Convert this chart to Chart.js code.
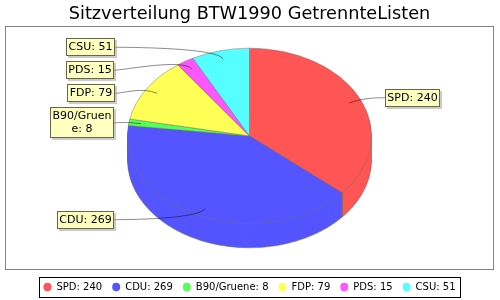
<!DOCTYPE html>
<html>
<head>
<meta charset="utf-8">
<script src="https://cdn.jsdelivr.net/npm/chart.js@4/dist/chart.umd.min.js"></script>
<style>
html,body{margin:0;padding:0;background:#ffffff;}
#wrap{width:500px;height:300px;}
</style>
</head>
<body>
<div id="wrap"><canvas id="c" width="500" height="300"></canvas></div>
<script>
// ---- data ----
const chartTitle = 'Sitzverteilung BTW1990 GetrennteListen';
const parties = ['SPD', 'CDU', 'B90/Gruene', 'FDP', 'PDS', 'CSU'];
const seats = [240, 269, 8, 79, 15, 51];
const colors = ['#FF5555', '#5555FF', '#55FF55', '#FFFF55', '#FF55FF', '#55FFFF'];

// ---- style ----
const FONT = '"DejaVu Sans", Verdana, sans-serif';
const LABEL_SIZE = 11;
const DEPTH = 24;          // pie thickness (px)
const TILT = 0.72;         // vertical squash of the pie
const RADIUS = 122;
const OUTLINE = 'rgba(110,110,110,0.9)';
const LINK_IN = 0.9;       // where leader lines touch the slice
const LINK_OUT = 1.04;     // link ellipse
const LABEL_GAP = 13;
const PAD_H = 2.5, PAD_V = 2.5, LINE_H = 13, STACK_GAP = 5;
const MAX_LABEL_W = 5.6 * LABEL_SIZE;
const LEGEND_SHIFT = 2;

function labelText(i) { return parties[i] + ': ' + seats[i]; }

function wrapText(ctx, text, maxW) {
  const words = text.split(' ');
  const lines = [];
  let cur = '';
  words.forEach(w => {
    const test = cur ? cur + ' ' + w : w;
    if (ctx.measureText(test).width <= maxW) { cur = test; return; }
    if (cur) { lines.push(cur); cur = ''; }
    let piece = '';
    for (const ch of w) {
      if (piece && ctx.measureText(piece + ch).width > maxW) { lines.push(piece); piece = ch; }
      else piece += ch;
    }
    cur = piece;
  });
  if (cur) lines.push(cur);
  return lines;
}

const pie3d = {
  id: 'pie3d',
  afterLayout(chart) {
    const lg = chart.legend;
    if (lg) { lg.top += LEGEND_SHIFT; lg.bottom += LEGEND_SHIFT; }
  },
  beforeDraw(chart) {
    const {ctx, chartArea: a} = chart;
    ctx.save();
    ctx.fillStyle = '#ffffff';
    ctx.fillRect(0, 0, chart.width, chart.height);
    ctx.strokeStyle = '#808080';
    ctx.lineWidth = 1;
    ctx.strokeRect(Math.round(a.left) + 0.5, Math.round(a.top) + 0.5,
                   Math.round(a.right - a.left) - 1, Math.round(a.bottom - a.top) - 1);
    ctx.restore();
  },
  beforeDatasetsDraw(chart) {
    const arcs = chart.getDatasetMeta(0).data;
    if (!arcs.length) return;
    const ctx = chart.ctx;
    const cx = arcs[0].x, cy = arcs[0].y;
    // extruded sides: stack of squashed pies, bottom to top
    for (let d = DEPTH; d >= 1; d--) {
      ctx.save();
      ctx.translate(cx, cy - DEPTH / 2 + d);
      ctx.scale(1, TILT);
      ctx.translate(-cx, -cy);
      arcs.forEach(arc => {
        const o = arc.options;
        arc.options = Object.assign({}, o, {borderWidth: 0});
        arc.draw(ctx);
        arc.options = o;
      });
      ctx.restore();
    }
    // top face: let Chart.js draw it under the same squash
    ctx.save();
    ctx.translate(cx, cy - DEPTH / 2);
    ctx.scale(1, TILT);
    ctx.translate(-cx, -cy);
  },
  afterDatasetsDraw(chart) {
    const arcs = chart.getDatasetMeta(0).data;
    if (!arcs.length) return;
    const ctx = chart.ctx;
    ctx.restore();
    const cx = arcs[0].x, cy = arcs[0].y, R = arcs[0].outerRadius;
    const topCy = cy - DEPTH / 2;
    const ry = R * TILT;

    // side outlines
    ctx.save();
    ctx.strokeStyle = OUTLINE;
    ctx.lineWidth = 0.6;
    ctx.beginPath();
    ctx.ellipse(cx, topCy + DEPTH, R, ry, 0, 0, Math.PI);
    ctx.stroke();
    ctx.beginPath();
    arcs.forEach(arc => {
      [arc.startAngle, arc.endAngle].forEach(ang => {
        if (Math.sin(ang) > 0.02) {
          const x = cx + R * Math.cos(ang), y = topCy + ry * Math.sin(ang);
          ctx.moveTo(x, y);
          ctx.lineTo(x, y + DEPTH);
        }
      });
    });
    ctx.stroke();
    ctx.restore();

    // labels
    ctx.save();
    ctx.font = LABEL_SIZE + 'px ' + FONT;
    const items = arcs.map((arc, i) => {
      const mid = (arc.startAngle + arc.endAngle) / 2;
      const c = Math.cos(mid), s = Math.sin(mid);
      const lines = wrapText(ctx, labelText(i), MAX_LABEL_W);
      const tw = Math.max(...lines.map(l => ctx.measureText(l).width));
      return {i, c, s, lines, w: tw + 2 * PAD_H, h: lines.length * LINE_H + 2 * PAD_V,
              y: topCy + s * ry * LINK_OUT, right: c >= 0};
    });
    [true, false].forEach(side => {
      const list = items.filter(it => it.right === side).sort((a, b) => a.y - b.y);
      let prevBottom = -Infinity;
      list.forEach(it => {
        let top = it.y - it.h / 2;
        if (top < prevBottom + STACK_GAP) top = prevBottom + STACK_GAP;
        it.y = top + it.h / 2;
        prevBottom = top + it.h;
      });
    });
    items.forEach(it => {
      const bx = Math.round(it.right ? cx + R + LABEL_GAP : cx - R - LABEL_GAP - it.w);
      const by = Math.round(it.y - it.h / 2);
      const bw = Math.round(it.w), bh = Math.round(it.h);
      const targetX = it.right ? bx : bx + bw;
      const targetY = it.y;
      const linkX = cx + it.c * R * LINK_IN, linkY = topCy + it.s * ry * LINK_IN;
      const elbowX = cx + it.c * R * LINK_OUT, elbowY = topCy + it.s * ry * LINK_OUT;
      const anchorX = cx + (it.right ? 1 : -1) * R * LINK_OUT;
      // leader
      ctx.strokeStyle = 'rgba(0,0,0,0.75)';
      ctx.lineWidth = 0.6;
      ctx.beginPath();
      ctx.moveTo(linkX, linkY);
      ctx.bezierCurveTo(elbowX, elbowY, anchorX, targetY, targetX, targetY);
      ctx.stroke();
      // shadow
      ctx.fillStyle = 'rgba(151,151,151,0.5)';
      ctx.fillRect(bx + 2, by + 2, bw, bh);
      // box
      ctx.fillStyle = '#FFFFC0';
      ctx.fillRect(bx, by, bw, bh);
      ctx.strokeStyle = 'rgba(0,0,0,0.6)';
      ctx.lineWidth = 1;
      ctx.strokeRect(bx + 0.5, by + 0.5, bw - 1, bh - 1);
      // text
      ctx.fillStyle = '#000000';
      ctx.textAlign = 'center';
      ctx.textBaseline = 'middle';
      it.lines.forEach((ln, k) => {
        ctx.fillText(ln, bx + bw / 2, by + PAD_V + LINE_H * (k + 0.5) + 0.5);
      });
    });
    ctx.restore();
  },
  afterDraw(chart) {
    const lg = chart.legend;
    if (!lg || !lg.lineWidths) return;
    const ctx = chart.ctx;
    const pad = lg.options.labels.padding;
    const fs = lg.options.labels.font.size;
    const x0 = (lg.left + pad + lg.right - lg.lineWidths[0]) / 2;
    const x1 = x0 + lg.lineWidths[0] - pad;
    const yc = lg.top + pad + fs / 2;
    ctx.save();
    ctx.strokeStyle = '#000000';
    ctx.lineWidth = 1;
    const L = Math.round(x0 - 4), Rr = Math.round(x1 + 4);
    const T = Math.round(yc - 10), B = Math.round(yc + 10);
    ctx.strokeRect(L + 0.5, T + 0.5, Rr - L, B - T);
    ctx.restore();
  }
};

new Chart(document.getElementById('c'), {
  type: 'pie',
  data: {
    labels: parties,
    datasets: [{
      data: seats,
      backgroundColor: colors,
      borderColor: OUTLINE,
      borderWidth: 0.6,
      radius: RADIUS,
      clip: false
    }]
  },
  options: {
    responsive: false,
    devicePixelRatio: 1,
    animation: false,
    events: [],
    layout: {padding: {left: 5, right: 6, top: 0, bottom: 0}},
    plugins: {
      title: {
        display: true,
        text: chartTitle,
        color: '#000000',
        font: {family: FONT, size: 17.7, weight: 'normal', lineHeight: 1.15},
        padding: {top: 4, bottom: 1.6}
      },
      legend: {
        display: true,
        position: 'bottom',
        labels: {
          usePointStyle: true,
          pointStyle: 'circle',
          pointStyleWidth: 8,
          boxHeight: 5.9,
          padding: 10,
          color: '#000000',
          font: {family: FONT, size: 10},
          generateLabels() {
            return parties.map((p, i) => ({
              text: labelText(i), fillStyle: colors[i], strokeStyle: colors[i],
              lineWidth: 0, pointStyle: 'circle', hidden: false, index: i, fontColor: '#000000'
            }));
          }
        }
      },
      tooltip: {enabled: false}
    }
  },
  plugins: [pie3d]
});
</script>
</body>
</html>
